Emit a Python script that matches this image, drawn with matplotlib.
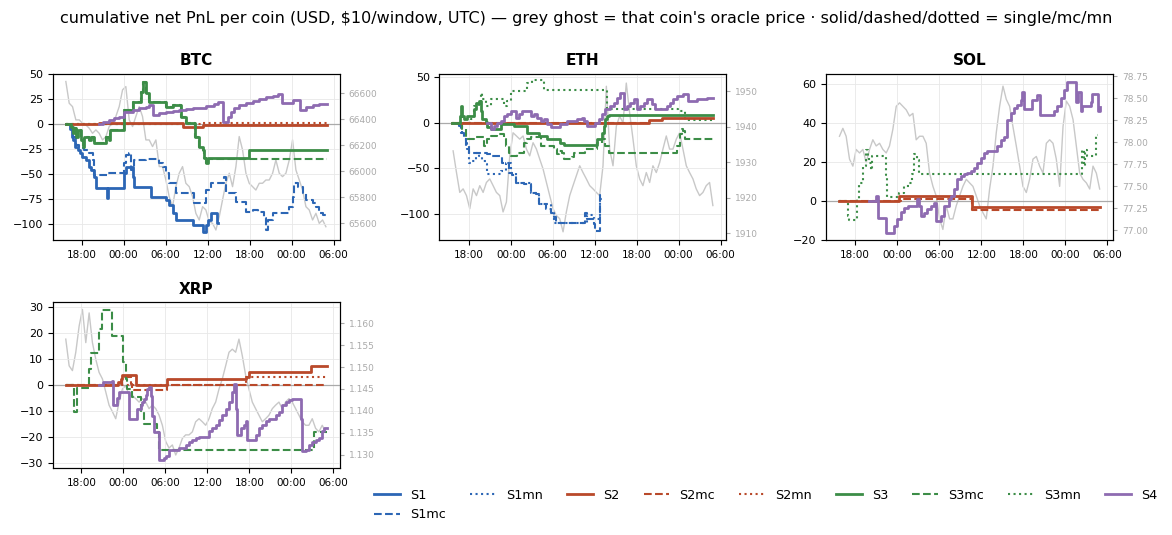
import matplotlib
matplotlib.use('Agg')
import matplotlib.pyplot as plt
import matplotlib.dates as mdates
from matplotlib.lines import Line2D
from matplotlib.ticker import MultipleLocator
import pandas as pd

BASE = pd.Timestamp('2025-01-01 00:00')
COINS = ['BTC', 'ETH', 'SOL', 'XRP']
SERIES_NAMES = ['S1', 'S1mc', 'S1mn', 'S2', 'S2mc', 'S2mn', 'S3', 'S3mc', 'S3mn', 'S4']

# hours since day-1 00:00 at which the oracle price was read
GHOST_H = [15.76, 16.24, 16.71, 17.19, 17.67, 18.14, 18.62, 19.10, 19.57, 20.05,
           20.52, 21.00, 21.48, 21.95, 22.43, 22.90, 23.38, 23.86, 24.33, 24.81,
           25.29, 25.76, 26.24, 26.71, 27.19, 27.67, 28.14, 28.62, 29.10, 29.57,
           30.05, 30.52, 31.00, 31.48, 31.95, 32.43, 32.90, 33.38, 33.86, 34.33,
           34.81, 35.29, 35.76, 36.24, 36.71, 37.19, 37.67, 38.14, 38.62, 39.10,
           39.57, 40.05, 40.52, 41.00, 41.48, 41.95, 42.43, 42.90, 43.38, 43.86,
           44.33, 44.81, 45.29, 45.76, 46.24, 46.71, 47.19, 47.67, 48.14, 48.62,
           49.10, 49.57, 50.05, 50.52, 51.00, 51.48, 51.95, 52.43, 52.90]

BTC_PRICE = [66690, 66523, 66497, 66395, 66395, 66369, 66356, 66331, 66292, 66318,
             66292, 66241, 66267, 66344, 66369, 66421, 66497, 66626, 66651, 66395,
             66344, 66421, 66497, 66421, 66241, 66241, 66190, 66241, 66036, 66036,
             65933, 65805, 65728, 65882, 65985, 66036, 65908, 65882, 65805, 65677,
             65626, 65728, 65703, 65613, 65600, 65549, 65651, 65780, 65908, 65985,
             65882, 66036, 66267, 66164, 65985, 65908, 65882, 65856, 65908, 65908,
             65933, 65933, 65985, 66087, 65985, 65959, 65985, 66087, 66241, 66010,
             65933, 65856, 65728, 65703, 65626, 65677, 65600, 65626, 65574]

ETH_PRICE = [1933.2, 1927.1, 1921.5, 1922.5, 1920.6, 1916.9, 1922.5, 1920.6, 1923.4, 1921.5,
             1924.3, 1925.3, 1923.4, 1921.5, 1920.6, 1916.0, 1918.8, 1931.8, 1938.3, 1937.4,
             1936.5, 1937.4, 1933.7, 1931.8, 1935.5, 1933.7, 1930.9, 1928.1, 1924.3, 1920.6,
             1916.9, 1915.0, 1914.1, 1910.4, 1916.0, 1920.6, 1923.4, 1926.2, 1929.0, 1927.1,
             1925.3, 1923.4, 1922.5, 1921.5, 1920.6, 1929.0, 1951.4, 1933.7, 1929.0, 1940.2,
             1943.0, 1941.1, 1952.3, 1943.9, 1936.5, 1929.0, 1925.3, 1923.4, 1927.1, 1924.3,
             1929.0, 1927.1, 1929.9, 1933.7, 1937.4, 1933.7, 1933.7, 1936.5, 1938.3, 1933.7,
             1929.0, 1927.1, 1925.3, 1922.5, 1920.6, 1921.5, 1923.4, 1924.3, 1917.8]

SOL_PRICE = [78.07, 78.16, 78.07, 77.81, 77.73, 77.92, 77.88, 77.92, 77.77, 77.92,
             78.03, 77.96, 77.99, 77.92, 77.88, 77.96, 78.15, 78.41, 78.45, 78.41,
             78.37, 78.30, 78.33, 78.03, 78.07, 78.07, 77.99, 77.65, 77.50, 77.39,
             77.13, 77.01, 77.28, 77.13, 77.13, 77.28, 77.39, 77.50, 77.58, 77.54,
             77.50, 77.39, 77.28, 77.20, 77.13, 77.47, 77.73, 78.11, 78.41, 78.64,
             78.49, 78.41, 78.18, 77.96, 77.73, 77.50, 77.43, 77.58, 77.81, 77.84,
             77.73, 77.65, 77.99, 78.03, 77.99, 77.81, 77.50, 78.18, 78.47, 78.41,
             78.26, 77.96, 77.65, 77.58, 77.54, 77.47, 77.73, 77.65, 77.47]

XRP_PRICE = [1.1564, 1.1503, 1.1492, 1.1534, 1.1594, 1.1632, 1.1556, 1.1624, 1.1556, 1.1518,
             1.1488, 1.1473, 1.1443, 1.1413, 1.1398, 1.1382, 1.1420, 1.1450, 1.1458, 1.1435,
             1.1435, 1.1428, 1.1420, 1.1428, 1.1420, 1.1405, 1.1413, 1.1405, 1.1390, 1.1367,
             1.1330, 1.1315, 1.1322, 1.1299, 1.1315, 1.1337, 1.1345, 1.1345, 1.1352, 1.1375,
             1.1382, 1.1375, 1.1367, 1.1382, 1.1405, 1.1420, 1.1450, 1.1473, 1.1503, 1.1534,
             1.1541, 1.1534, 1.1564, 1.1526, 1.1481, 1.1450, 1.1420, 1.1405, 1.1390, 1.1375,
             1.1382, 1.1390, 1.1405, 1.1413, 1.1420, 1.1405, 1.1420, 1.1428, 1.1420, 1.1405,
             1.1390, 1.1375, 1.1367, 1.1367, 1.1382, 1.1360, 1.1352, 1.1367, 1.1352]

# cumulative PnL step series: (hours since day-1 00:00, USD)
BTC_S1 = [(15.75, 0), (16.4, -5), (16.6, -13), (16.75, -16), (17.0, -23), (17.5, -26),
          (17.75, -29), (18.1, -33), (18.6, -36), (19.1, -43), (19.3, -46), (19.8, -53),
          (20.05, -56), (20.1, -64), (21.7, -74), (21.85, -64), (24.1, -49), (24.4, -43),
          (25.3, -53), (25.5, -63), (27.9, -73), (30.05, -76), (30.5, -81), (31.0, -89),
          (31.5, -96), (33.86, -101), (35.29, -108), (35.76, -101), (36.0, -96),
          (36.48, -89), (37.4, -99), (37.45, -99)]
BTC_S1MC = [(16.4, -3), (16.71, -13), (17.19, -21), (17.67, -24), (18.38, -26), (19.1, -29),
            (19.57, -36), (19.81, -51), (21.71, -49), (24.1, -39), (24.33, -31), (24.8, -29),
            (25.05, -46), (25.29, -43), (25.52, -36), (27.19, -35), (29.1, -39), (29.57, -43),
            (30.05, -49), (30.52, -59), (31.48, -69), (34.1, -79), (35.76, -66), (36.48, -59),
            (38.38, -53), (38.62, -69), (40.05, -78), (41.48, -88), (42.43, -86), (43.14, -88),
            (44.1, -94), (44.33, -106), (44.57, -96), (45.29, -89), (47.67, -83), (48.14, -73),
            (48.38, -59), (48.86, -63), (49.57, -69), (50.05, -76), (51.0, -79), (51.48, -83),
            (51.95, -89), (52.43, -91), (53.0, -91)]
BTC_S2 = [(15.75, 0), (20.5, 1), (32.43, -3), (35.29, -1), (53.0, -1)]
BTC_S2MN = [(15.75, 0), (35.29, 0.8), (53.0, 0.8)]
BTC_S3 = [(15.75, 0), (16.48, -3), (16.71, -9), (16.95, -4), (17.19, -13), (17.43, -6),
          (17.9, -16), (18.14, -23), (18.38, -13), (19.1, -16), (19.33, -13), (19.81, -19),
          (21.48, -13), (21.95, -16), (22.1, -6), (24.1, 14), (25.29, 22), (26.48, 32),
          (26.8, 42), (27.19, 31), (27.67, 22), (30.05, 17), (31.0, 19), (32.19, 7),
          (32.9, 1), (34.24, -13), (34.81, -23), (35.29, -26), (35.52, -34), (35.76, -39),
          (36.0, -34), (41.95, -26), (53.0, -26)]
BTC_S3MC = [(15.75, 0), (16.48, -3), (16.71, -9), (16.95, -4), (17.19, -13), (17.43, -6),
            (17.9, -16), (18.14, -23), (18.38, -13), (19.1, -16), (19.33, -13), (19.81, -19),
            (21.48, -13), (21.95, -16), (22.1, -6), (24.1, 14), (25.29, 22), (26.48, 32),
            (26.8, 42), (27.19, 31), (27.67, 22), (30.05, 17), (31.0, 19), (32.19, 7),
            (32.9, 1), (34.24, -13), (34.81, -23), (35.29, -26), (35.52, -34), (35.76, -39),
            (36.0, -35), (53.0, -35)]
BTC_S3MN = [(15.75, 0), (24.1, 0)]
BTC_S4 = [(20.5, 0), (21.0, 2), (21.95, 4), (22.67, 6), (23.38, 7), (24.1, 12), (25.29, 14),
          (26.24, 16), (27.19, 17), (27.67, 19), (28.14, 9), (29.1, 11), (30.05, 12), (31.0, 13),
          (31.95, 14), (32.9, 15), (33.86, 16), (35.76, 18), (36.95, 20), (37.43, 22),
          (38.24, 2), (38.86, 7), (39.33, 12), (39.81, 16), (40.52, 19), (41.48, 21),
          (42.43, 23), (43.38, 25), (44.33, 27), (45.29, 28), (46.0, 30), (46.62, 21),
          (48.14, 24), (49.24, 14), (50.05, 17), (51.0, 19), (51.95, 20), (53.0, 20)]

ETH_S1MC = [(16.6, 0), (16.62, -4), (16.86, -11), (17.33, -18), (17.57, -26), (18.05, -33),
            (20.66, -35), (21.14, -37), (22.8, -44), (23.75, -55), (24.22, -58), (24.7, -66),
            (25.89, -68), (26.84, -77), (27.55, -78), (28.02, -89), (28.97, -95), (29.69, -99),
            (30.16, -104), (30.4, -110), (34.67, -99), (34.91, -106), (35.86, -111),
            (36.1, -119), (36.81, -80), (37.05, -80)]
ETH_S1MN = [(16.6, 0), (16.62, -4), (17.1, -11), (17.57, -22), (17.81, -29), (18.05, -44),
            (18.52, -42), (19.0, -33), (19.47, -37), (19.95, -42), (20.42, -46), (20.66, -57),
            (22.09, -57), (22.56, -53), (23.27, -44), (23.99, -55), (24.7, -66), (26.84, -77),
            (28.02, -89), (29.69, -99), (30.16, -110), (34.44, -110), (34.91, -102),
            (35.86, -106), (36.81, -84), (37.05, -84)]
ETH_S2 = [(15.67, 0), (43.7, 2.5), (45.6, 5), (52.96, 5)]
ETH_S2MC = [(15.67, 0), (43.94, 0)]
ETH_S3 = [(15.67, 0), (16.76, 7), (16.86, 18), (17.1, 7), (17.33, 4), (17.81, 7), (18.76, 15),
          (19.0, 22), (19.47, 24), (19.71, 13), (19.95, 4), (20.42, 1), (20.66, -5), (21.14, -7),
          (22.56, -2), (24.46, -4), (26.36, -11), (28.02, -15), (29.21, -18), (31.11, -22),
          (31.59, -25), (36.34, -18), (37.05, -11), (37.29, -4), (37.52, 4), (37.76, 7),
          (38.0, 8), (52.96, 8)]
ETH_S3MC = [(16.86, 0), (17.1, -7), (17.57, -18), (18.76, -16), (20.19, -26), (20.66, -18),
            (21.14, -15), (22.09, -13), (23.04, -18), (23.27, -26), (23.75, -33), (23.99, -37),
            (24.94, -33), (25.89, -22), (26.36, -18), (26.84, -16), (28.26, -26), (30.16, -29),
            (30.64, -35), (30.87, -31), (31.35, -33), (31.59, -40), (32.77, -38), (33.01, -33),
            (34.67, -29), (36.34, -22), (37.05, -18), (37.52, -26), (38.0, -33), (47.74, -26),
            (48.21, -13), (48.45, -7), (48.69, -9), (48.93, -18), (52.96, -18)]
ETH_S3MN = [(15.67, 0), (18.29, 4), (18.76, 18), (19.47, 22), (19.71, 33), (19.95, 26),
            (20.42, 18), (21.14, 26), (22.56, 26), (23.04, 18), (23.51, 24), (23.99, 35),
            (26.36, 44), (27.07, 47), (28.74, 36), (37.29, 36), (37.76, 15), (47.98, 13),
            (48.93, 3), (52.96, 3)]
ETH_S4 = [(20.66, 0), (21.14, -7), (21.61, -4), (22.09, 0), (22.56, 2), (23.04, 7), (23.51, 9),
          (23.99, 13), (24.7, 5), (25.17, 9), (25.65, 13), (26.84, 7), (27.31, 9), (27.79, 5),
          (28.26, 2), (28.74, 4), (29.21, -2), (29.69, -5), (31.11, -2), (32.06, 2), (33.49, 4),
          (34.2, 5), (34.44, 2), (34.91, -4), (36.1, 0), (36.57, 4), (37.05, 9), (37.52, 15),
          (38.24, 18), (38.71, 22), (39.19, 27), (39.66, 33), (40.14, 15), (40.61, 18),
          (41.09, 22), (41.56, 26), (42.04, 15), (42.51, 18), (42.99, 22), (43.46, 26),
          (44.17, 20), (44.65, 15), (46.31, 18), (46.79, 22), (47.26, 26), (47.74, 29),
          (48.69, 31), (49.4, 24), (50.59, 26), (52.01, 27), (52.96, 27)]

SOL_S2 = [(15.72, 0), (24.28, 2.4), (34.74, -3), (52.95, -3)]
SOL_S2MC = [(15.72, 0), (24.52, 0.7), (34.74, -4.8), (52.95, -4.8)]
SOL_S3MN = [(15.72, 0), (16.91, -8), (17.14, -10), (18.33, 1), (18.57, 9), (19.05, 18),
            (19.52, 26), (19.76, 23), (20.0, 19.5), (20.23, 16), (20.47, 23), (22.14, 23),
            (22.37, 13), (22.61, 2), (24.28, 4), (24.99, 7.5), (25.7, 9), (26.18, 14),
            (26.42, 24), (26.89, 21), (27.13, 13.5), (50.43, 26), (50.6, 18), (50.8, 26),
            (51.14, 23), (52.33, 34), (52.6, 34)]
SOL_S4 = [(20.0, 0), (20.95, 2.4), (21.19, -8.7), (22.37, -16.4), (23.56, -13), (24.04, -9.6),
          (24.52, -6), (24.99, -3.6), (25.47, -2.7), (26.89, 0.7), (27.13, -2.7), (27.37, -7.9),
          (27.84, -6.2), (28.32, -4.4), (28.79, -2.7), (29.27, -1), (29.51, -10.4),
          (30.22, -7.9), (30.7, -2.7), (31.41, 0.7), (31.65, 2.4), (32.12, 5.8), (32.6, 11),
          (33.07, 12.6), (33.55, 13.5), (34.02, 14.4), (34.5, 15.2), (34.98, 17), (35.45, 19.5),
          (35.93, 22), (36.4, 24.6), (36.88, 25.5), (38.31, 28), (38.78, 31.5), (39.26, 33),
          (39.74, 41.7), (40.21, 45), (40.69, 47.7), (41.16, 49.4), (41.64, 52), (41.87, 56),
          (42.11, 47), (43.3, 52), (44.01, 54.5), (44.39, 44), (46.39, 46), (46.86, 49),
          (47.34, 53), (47.81, 57), (48.29, 61), (49.48, 51), (49.86, 56), (50.19, 46),
          (50.43, 49), (51.62, 51), (51.86, 55), (52.67, 46), (52.95, 48)]

XRP_S2 = [(15.76, 0), (23.29, 1.1), (23.62, 2.4), (23.86, 4), (25.76, 0), (30.29, 2.4),
          (41.48, 3), (41.95, 5), (50.76, 7.3), (53.05, 7.3)]
XRP_S2MC = [(15.76, 0), (23.38, 0.5), (23.86, 3), (25.05, 0.5), (25.29, -1.4), (25.52, -2),
            (30.29, 0), (53.05, 0)]
XRP_S2MN = [(15.76, 0), (41.48, 3), (53.05, 3)]
XRP_S3MC = [(15.76, 0), (16.95, -10.3), (17.43, -1.1), (19.1, 6.2), (19.33, 12.6), (20.52, 21.5),
            (21.0, 29), (22.43, 19), (23.9, 8.8), (24.33, 2.5), (24.57, -1.4), (25.29, -4.6),
            (26.48, -10), (26.95, -14.8), (28.86, -18), (29.1, -25), (51.0, -25), (51.24, -18),
            (53.05, -18)]
XRP_S4 = [(20.52, 0), (21.1, 1.1), (22.43, 1.8), (22.52, -7.8), (23.14, -5), (23.38, -2.7),
          (24.81, -12.9), (26.0, -9), (26.48, -7.8), (26.71, -6.5), (26.95, -5.2), (27.19, -3.9),
          (27.43, -1.4), (27.67, -0.8), (27.9, -4), (28.14, -11.7), (28.38, -18), (29.1, -28.8),
          (29.81, -28.2), (30.05, -27.5), (30.52, -25), (31.95, -24.4), (32.9, -23.1),
          (33.38, -21.8), (33.86, -21.1), (34.33, -20.5), (34.81, -19.9), (36.24, -17.8),
          (36.71, -16.6), (37.19, -15.3), (37.67, -13.5), (38.14, -11.6), (38.62, -9),
          (39.1, -6.5), (39.57, -2.7), (39.81, 0.5), (40.05, -9), (40.29, -19.2), (40.76, -16.6),
          (41.24, -15.3), (41.48, -14), (41.71, -21), (42.9, -19.2), (43.38, -16.6),
          (43.86, -15.3), (44.33, -14), (44.81, -12.9), (45.76, -11.6), (46.24, -10.3),
          (46.71, -7.8), (47.19, -6.5), (47.67, -5.8), (48.14, -5.2), (49.33, -12.9),
          (49.57, -25.4), (50.05, -25), (50.52, -23.1), (51.0, -21.8), (51.48, -21),
          (51.95, -20.4), (52.43, -17.8), (52.67, -16.7), (53.05, -16.7)]

PRICES = {'BTC': BTC_PRICE, 'ETH': ETH_PRICE, 'SOL': SOL_PRICE, 'XRP': XRP_PRICE}
SERIES = {
    'BTC': {'S1': BTC_S1, 'S1mc': BTC_S1MC, 'S2': BTC_S2, 'S2mn': BTC_S2MN,
            'S3mn': BTC_S3MN, 'S3mc': BTC_S3MC, 'S3': BTC_S3, 'S4': BTC_S4},
    'ETH': {'S1mc': ETH_S1MC, 'S1mn': ETH_S1MN, 'S2mc': ETH_S2MC, 'S2': ETH_S2,
            'S3mn': ETH_S3MN, 'S3mc': ETH_S3MC, 'S3': ETH_S3, 'S4': ETH_S4},
    'SOL': {'S2mc': SOL_S2MC, 'S2': SOL_S2, 'S3mn': SOL_S3MN, 'S4': SOL_S4},
    'XRP': {'S2mc': XRP_S2MC, 'S2mn': XRP_S2MN, 'S2': XRP_S2, 'S3mc': XRP_S3MC, 'S4': XRP_S4},
}

# axis ranges
PNL_LIM = {'BTC': (-116, 50.5), 'ETH': (-129, 53.6), 'SOL': (-20.2, 65.3), 'XRP': (-32, 32.1)}
PRICE_LIM = {'BTC': (65472, 66749), 'ETH': (1908.1, 1954.9), 'SOL': (76.89, 78.78),
             'XRP': (1.1269, 1.1649)}
PRICE_STEP = {'BTC': 200, 'ETH': 10, 'SOL': 0.25, 'XRP': 0.005}

COLORS = {'S1': '#2c66b5', 'S2': '#b9492a', 'S3': '#3c8d47', 'S4': '#8e6bb1'}
VARIANT = {'': ('-', 2.0), 'mc': ('--', 1.5), 'mn': (':', 1.5)}


def to_time(hours):
    return BASE + pd.to_timedelta(list(hours), unit='h')


def style(name):
    base, var = name[:2], name[2:]
    ls, lw = VARIANT[var]
    return COLORS[base], ls, lw


fig, axes = plt.subplots(2, 3, figsize=(11.72, 5.35), dpi=100)
fig.subplots_adjust(left=0.045, right=0.9497, top=0.862, bottom=0.125,
                    wspace=0.348, hspace=0.373)
fig.suptitle("cumulative net PnL per coin (USD, $10/window, UTC) \u2014 grey ghost = that coin's "
             "oracle price \u00b7 solid/dashed/dotted = single/mc/mn", fontsize=11.5, y=0.966,
             va='center')

for i, coin in enumerate(COINS):
    ax = axes.flat[i]
    ax2 = ax.twinx()
    ax2.plot(to_time(GHOST_H), PRICES[coin], color='#c8c8c8', lw=1.0)
    ax2.set_ylim(*PRICE_LIM[coin])
    ax2.yaxis.set_major_locator(MultipleLocator(PRICE_STEP[coin]))
    ax2.tick_params(axis='y', labelsize=6.5, labelcolor='#aaaaaa', color='#aaaaaa', length=3)
    ax.set_zorder(ax2.get_zorder() + 1)
    ax.patch.set_visible(False)
    ax.grid(True, color='#e8e8e8', lw=0.6)
    ax.set_axisbelow(True)
    ax.axhline(0, color='#aaaaaa', lw=0.9, zorder=1)
    for name, pts in SERIES[coin].items():
        c, ls, lw = style(name)
        ax.plot(to_time([p[0] for p in pts]), [p[1] for p in pts], color=c, ls=ls, lw=lw,
                drawstyle='steps-post', zorder=2 + (1 if ls == '-' else 0))
    ax.set_ylim(*PNL_LIM[coin])
    ax.set_title(coin, fontsize=11, fontweight='bold')
    ax.xaxis.set_major_locator(mdates.HourLocator(byhour=[0, 6, 12, 18]))
    ax.xaxis.set_major_formatter(mdates.DateFormatter('%H:%M'))
    ax.tick_params(axis='x', labelsize=7.5)
    ax.tick_params(axis='y', labelsize=8)

axes.flat[4].remove()
axes.flat[5].remove()

handles = []
for name in SERIES_NAMES:
    c, ls, lw = style(name)
    handles.append(Line2D([], [], color=c, ls=ls, lw=lw))
fig.legend(handles, SERIES_NAMES, ncol=9, loc='upper left', bbox_to_anchor=(0.3097, 0.108),
           frameon=False, fontsize=9.2, handlelength=2.0, columnspacing=1.9)

fig.savefig('out.png', dpi=100)
